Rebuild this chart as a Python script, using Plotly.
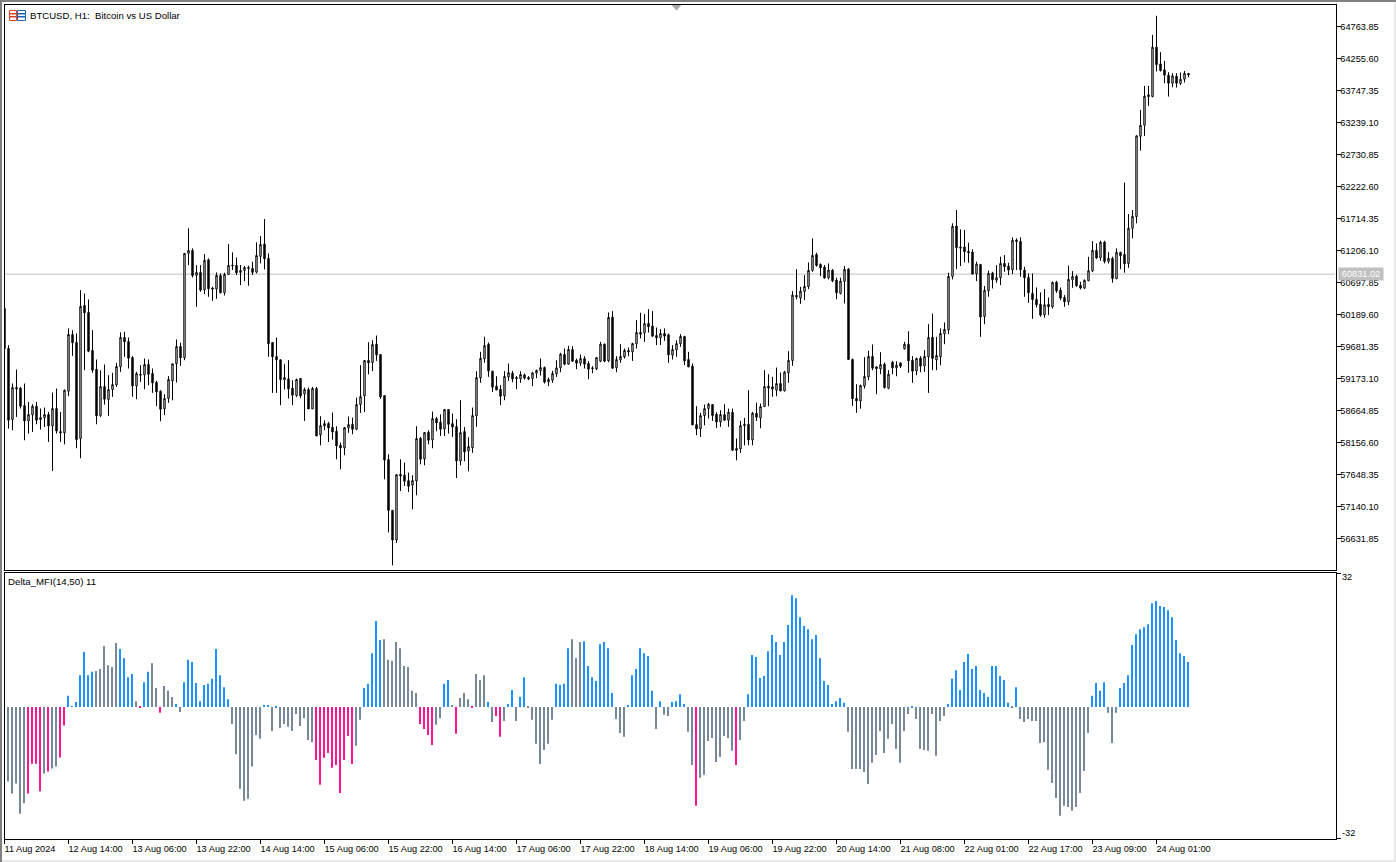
import plotly.graph_objects as go

W, H = 1396, 862

# BTCUSD H1 candles
open_px = [
    60285, 59650, 58521, 59029, 59019, 58743, 58499, 58595, 58733, 58521, 58552, 58600,
    58420, 58696, 58330, 58309, 58971, 59872, 59745, 58219, 60333, 60222, 59618, 59321,
    58584, 59045, 58839, 58998, 59072, 59358, 59824, 59761, 59506, 59056, 59236, 59231,
    59395, 59252, 59109, 58971, 58690, 58855, 59135, 59406, 59681, 59501, 61160, 61208,
    60810, 60858, 60582, 61059, 60609, 60593, 60810, 60535, 60826, 60975, 60969, 60858,
    60890, 60937, 60922, 60863, 61112, 61308, 61081, 59745, 59522, 59469, 59151, 59167,
    59019, 58902, 59173, 58929, 58998, 58690, 59014, 58277, 58420, 58457, 58399, 58335,
    58112, 58070, 58388, 58446, 58367, 58759, 58897, 59459, 59427, 59718, 59554, 58902,
    57885, 57079, 56607, 57651, 57636, 57551, 57482, 57545, 58224, 57895, 58319, 58197,
    58537, 58478, 58372, 58680, 58457, 58409, 57863, 58330, 58022, 58075, 58579, 59183,
    59485, 59718, 59289, 59051, 59003, 58897, 59199, 59257, 59188, 59167, 59231, 59188,
    59173, 59257, 59294, 59347, 59120, 59146, 59247, 59342, 59554, 59400, 59634, 59464,
    59416, 59490, 59411, 59342, 59326, 59448, 59718, 59453, 60148, 59342, 59469, 59517,
    59618, 59596, 59724, 59904, 59899, 60047, 60005, 59856, 59819, 59888, 59867, 59544,
    59628, 59724, 59840, 59475, 59369, 58441, 58372, 58584, 58695, 58759, 58605, 58483,
    58600, 58510, 58637, 58060, 58054, 58446, 58446, 58197, 58621, 58547, 58727, 59051,
    59040, 58987, 59093, 58976, 59263, 59459, 60492, 60450, 60556, 60630, 60890, 61144,
    60985, 60943, 60773, 60895, 60736, 60524, 60715, 60911, 59475, 58855, 58817, 59051,
    59199, 59522, 59358, 59326, 59400, 59019, 59432, 59342, 59420, 59644, 59718, 59464,
    59294, 59496, 59374, 59517, 59830, 59469, 59517, 59883, 59946, 60794, 61595, 61261,
    61261, 61192, 61181, 60837, 60985, 60158, 60566, 60847, 60736, 60773, 61001, 60959,
    60900, 61372, 61351, 60895, 60778, 60524, 60429, 60354, 60185, 60349, 60312, 60704,
    60577, 60460, 60391, 60741, 60794, 60656, 60609, 60725, 60884, 61208, 61091, 61340,
    61033, 61081, 60757, 61176, 61144, 61001, 61558, 61743, 63020, 63195, 63678, 63651,
    64435, 64170, 64075, 63990, 63863, 63974, 63858, 63927, 64017,
]
high_px = [
    60285, 59703, 59093, 59316, 59040, 59093, 58802, 58764, 58802, 58696, 58711, 58642,
    58950, 59014, 58642, 58998, 59968, 59941, 59888, 60577, 60524, 60429, 59941, 59475,
    59305, 59395, 59226, 59263, 59422, 59904, 59915, 59824, 59528, 59278, 59385, 59491,
    59475, 59332, 59135, 58987, 58923, 59210, 59411, 59793, 59740, 61160, 61558, 61240,
    60975, 60975, 61149, 61081, 60630, 60858, 60842, 60853, 61308, 61176, 61096, 60975,
    60959, 60964, 61028, 61335, 61436, 61706, 61160, 59745, 59824, 59475, 59400, 59464,
    59146, 59172, 59173, 59029, 59029, 59040, 59040, 58574, 58510, 58484, 58632, 58415,
    58155, 58404, 58568, 58552, 58870, 59385, 59464, 59750, 59782, 59856, 59559, 58908,
    57969, 57079, 57651, 57890, 57837, 57678, 57636, 58415, 58245, 58319, 58351, 58648,
    58563, 58605, 58680, 58685, 58616, 58526, 58828, 58404, 58240, 58711, 59289, 59597,
    59835, 59745, 59294, 59210, 59067, 59289, 59411, 59294, 59210, 59289, 59252, 59210,
    59278, 59316, 59490, 59363, 59188, 59294, 59464, 59581, 59650, 59692, 59687, 59490,
    59554, 59528, 59448, 59369, 59506, 59755, 59729, 60222, 60243, 59528, 59718, 59649,
    59665, 59740, 60100, 60217, 60195, 60275, 60243, 59983, 59957, 59968, 59888, 59703,
    59782, 59877, 59851, 59597, 59411, 58733, 58627, 58759, 58786, 58764, 58637, 58669,
    58764, 58695, 58695, 58219, 58499, 58547, 58987, 58642, 58791, 58775, 59305, 59241,
    59199, 59347, 59268, 59294, 59607, 60561, 60911, 60630, 60815, 61017, 61398, 61171,
    61001, 60975, 61001, 60911, 60773, 60773, 60959, 60927, 59490, 59082, 59077, 59512,
    59612, 59713, 59369, 59591, 59427, 59305, 59453, 59448, 59432, 59755, 59925, 59528,
    59506, 59528, 59623, 60036, 60206, 59835, 59968, 60063, 60853, 61637, 61849, 61542,
    61531, 61330, 61224, 61028, 60990, 60640, 60884, 60868, 60974, 61107, 61134, 61012,
    61414, 61398, 61414, 60948, 60842, 60842, 60619, 60540, 60593, 60460, 60715, 60725,
    60619, 60497, 60969, 60879, 60821, 60709, 60747, 61107, 61356, 61319, 61361, 61361,
    61181, 61107, 61240, 61186, 62284, 61785, 61849, 63041, 63439, 63821, 63821, 64631,
    64934, 64356, 64218, 64038, 64022, 64022, 64033, 64059, 64027,
]
low_px = [
    59650, 58378, 58351, 58563, 58696, 58192, 58298, 58324, 58446, 58362, 58404, 58166,
    57704, 58298, 58166, 58128, 58892, 59533, 58065, 57906, 59305, 59591, 59263, 58446,
    58563, 58759, 58579, 58881, 59040, 59278, 59517, 59332, 58881, 58844, 59120, 59003,
    59066, 58945, 58733, 58494, 58590, 58786, 58828, 59109, 59374, 59464, 60975, 60778,
    60312, 60551, 60513, 60471, 60407, 60439, 60524, 60492, 60816, 60895, 60816, 60657,
    60720, 60646, 60816, 60842, 61001, 60906, 59517, 58945, 58945, 58749, 58998, 58855,
    58749, 58881, 58860, 58499, 58690, 58690, 58261, 58112, 58351, 58165, 58203, 57890,
    57731, 57954, 58309, 58287, 58351, 58627, 58642, 59241, 59289, 59453, 58849, 57572,
    56729, 56205, 56560, 57386, 57466, 57370, 57095, 57318, 57810, 57795, 58128, 58065,
    58335, 58261, 58261, 58298, 58245, 57593, 57795, 57858, 57699, 57991, 58404, 59104,
    59422, 59199, 58961, 58987, 58749, 58828, 59135, 59114, 59003, 59104, 59157, 59146,
    59051, 59178, 59220, 59093, 59051, 59104, 59199, 59273, 59384, 59395, 59437, 59321,
    59374, 59332, 59162, 59257, 59305, 59432, 59432, 59432, 59326, 59273, 59422, 59490,
    59528, 59453, 59649, 59809, 59755, 59904, 59835, 59703, 59703, 59771, 59422, 59475,
    59517, 59676, 59385, 59353, 58436, 58272, 58245, 58430, 58537, 58499, 58388, 58404,
    58499, 58404, 58022, 57874, 57991, 58112, 58112, 58112, 58499, 58383, 58722, 58733,
    58881, 58892, 58971, 58966, 59104, 59374, 60429, 60360, 60418, 60593, 60869, 60948,
    60800, 60757, 60747, 60704, 60434, 60508, 60365, 59470, 58738, 58627, 58695, 59014,
    59146, 59305, 58923, 59241, 59014, 59003, 59241, 59209, 59340, 59634, 59263, 59104,
    59225, 59273, 59278, 58945, 59305, 59305, 59384, 59718, 59877, 60747, 60911, 60959,
    61017, 61012, 60831, 60720, 59835, 60036, 60471, 60603, 60694, 60657, 60869, 60816,
    60831, 60895, 60789, 60471, 60376, 60121, 60301, 60153, 60137, 60180, 60285, 60535,
    60418, 60312, 60338, 60614, 60630, 60588, 60593, 60720, 60863, 61075, 61043, 61001,
    61001, 60694, 60752, 60911, 60853, 60932, 61398, 61637, 62792, 63026, 63503, 63640,
    64049, 64049, 63863, 63651, 63799, 63794, 63836, 63874, 63958,
]
close_px = [
    59650, 58510, 59029, 59008, 58733, 58499, 58600, 58733, 58510, 58552, 58600, 58420,
    58696, 58340, 58309, 58987, 59872, 59740, 58203, 60317, 60217, 59607, 59305, 58579,
    59045, 58844, 58998, 59077, 59363, 59824, 59756, 59496, 59056, 59252, 59226, 59395,
    59241, 59104, 58960, 58685, 58855, 59157, 59406, 59681, 59501, 61160, 61208, 60810,
    60858, 60577, 61049, 60598, 60593, 60810, 60535, 60826, 60969, 60964, 60853, 60890,
    60937, 60922, 60858, 61128, 61303, 61075, 59724, 59517, 59469, 59157, 59188, 59008,
    58908, 59157, 58897, 58998, 58690, 59014, 58261, 58425, 58457, 58388, 58324, 58102,
    58070, 58393, 58441, 58367, 58759, 58886, 59459, 59422, 59713, 59549, 58881, 57879,
    57079, 56607, 57646, 57625, 57540, 57461, 57551, 58219, 57890, 58314, 58192, 58537,
    58468, 58367, 58680, 58446, 58404, 57863, 58314, 58007, 58091, 58584, 59188, 59490,
    59697, 59294, 59035, 58992, 58892, 59204, 59268, 59167, 59173, 59236, 59178, 59167,
    59263, 59300, 59347, 59114, 59157, 59252, 59342, 59559, 59400, 59634, 59448, 59416,
    59490, 59400, 59321, 59332, 59506, 59718, 59448, 60142, 59337, 59475, 59522, 59618,
    59596, 59729, 59904, 59877, 60047, 59994, 59846, 59819, 59888, 59846, 59549, 59634,
    59729, 59840, 59453, 59358, 58436, 58372, 58584, 58695, 58764, 58584, 58483, 58600,
    58510, 58637, 58033, 58033, 58425, 58425, 58197, 58621, 58558, 58727, 59045, 59024,
    59008, 59093, 58976, 59273, 59459, 60498, 60471, 60561, 60635, 60890, 61128, 60969,
    60932, 60768, 60895, 60725, 60535, 60720, 60906, 59475, 58849, 58817, 59061, 59204,
    59522, 59337, 59331, 59395, 59029, 59241, 59342, 59385, 59368, 59718, 59453, 59289,
    59490, 59369, 59522, 59824, 59491, 59538, 59888, 59952, 60794, 61589, 61250, 61245,
    61187, 61171, 60831, 60990, 60148, 60572, 60842, 60741, 60773, 61001, 60948, 60895,
    61367, 61351, 60900, 60773, 60535, 60429, 60344, 60180, 60344, 60312, 60699, 60566,
    60450, 60391, 60747, 60794, 60646, 60609, 60731, 60884, 61208, 61086, 61335, 61033,
    61081, 60762, 61176, 61123, 60996, 61558, 61748, 63026, 63195, 63656, 63651, 64435,
    64160, 64064, 63990, 63863, 63980, 63863, 63927, 64022, 63996,
]

# Delta_MFI(14,50) histogram
delta_mfi = [
    -14.4, -18.0, -20.9, -18.5, -25.8, -23.3, -20.9, -13.7, -13.7, -20.4, -16.1, -15.6,
    -14.9, -14.4, -12.2, -4.5, 2.7, 0.2, 1.2, 7.7, 13.3, 7.7, 8.5, 8.7,
    9.2, 14.7, 10.1, 9.7, 15.5, 14.0, 11.8, 7.2, 8.0, 1.4, -0.2, 6.0,
    8.5, 10.6, 4.6, -1.4, 5.1, 3.9, 2.4, 0.7, -1.2, 6.0, 11.4, 10.9,
    5.8, 1.4, 5.3, 5.6, 6.8, 14.0, 7.7, 4.8, 1.9, -4.1, -11.4, -19.8,
    -22.7, -22.2, -14.4, -6.8, -7.7, 0.5, 0.5, -5.8, -0.2, -5.1, -4.1, -4.8,
    -5.8, -1.7, -4.6, -2.7, -8.0, -8.5, -12.8, -18.8, -12.3, -11.1, -14.7, -14.0,
    -20.8, -12.8, -7.0, -13.8, -9.4, -3.1, 4.6, 5.6, 13.0, 20.8, 16.2, 16.4,
    11.4, 11.1, 15.7, 14.2, 9.9, 9.7, 3.9, 3.4, -4.1, -5.3, -6.8, -9.2,
    -4.3, -2.7, 5.6, 6.5, 0.5, -6.5, 2.2, 3.4, 1.9, -0.2, 8.0, 6.5,
    7.7, 1.2, -3.6, -2.2, -7.2, -3.4, 0.7, 4.1, -3.4, 2.4, 7.2, -0.2,
    -3.1, -8.9, -13.8, -10.4, -8.9, -3.1, 5.6, 5.3, 5.6, 14.2, 16.4, 11.8,
    15.7, 15.9, 9.9, 7.2, 6.3, 15.2, 15.7, 14.2, 3.4, -2.9, -6.3, -7.2,
    0.5, 7.7, 9.2, 14.2, 13.0, 12.3, 3.9, -5.3, 1.4, -1.9, -2.2, 1.2,
    1.4, 3.1, 0.7, -6.0, -14.0, -23.9, -17.1, -16.4, -8.2, -7.5, -13.3, -12.1,
    -7.0, -7.5, -10.6, -14.0, -8.0, -3.4, 3.1, 12.6, 12.1, 7.0, 7.5, 13.5,
    17.4, 15.7, 12.6, 15.7, 19.8, 27.0, 26.3, 21.7, 19.6, 18.8, 16.4, 17.4,
    11.8, 6.3, 5.3, 0.7, 1.4, 2.2, 1.0, -6.0, -15.0, -15.0, -15.0, -15.7,
    -18.6, -13.5, -11.6, -5.8, -11.1, -7.7, -4.1, -10.1, -13.5, -5.8, -1.7, -0.2,
    -2.9, -10.1, -10.4, -10.6, -1.7, -11.8, -3.4, -2.2, 0.7, 6.8, 8.9, 4.1,
    10.9, 12.8, 9.2, 9.9, 4.1, 3.4, 2.4, 9.9, 9.9, 7.5, 6.5, 1.0,
    -0.2, 4.8, -2.9, -3.6, -2.9, -3.4, -3.4, -8.7, -8.5, -15.2, -18.4, -22.0,
    -26.3, -23.9, -24.2, -25.1, -24.2, -20.8, -15.5, -6.3, 2.7, 5.8, 3.9, 6.0,
    -1.4, -8.7, -1.4, 4.6, 5.8, 7.7, 15.0, 17.6, 18.8, 19.3, 20.0, 25.1,
    25.6, 24.4, 24.2, 23.4, 21.7, 16.2, 13.0, 12.3, 10.9,
]
delta_state = list(
    "GGGGGGPPPPGP" "GGPPBBBBBBBG" "GGGGGBBBBGPB" "BGGPGGGBGBBB"
    "BBBBBBBBBGGG" "GGGGGBBGBGGG" "GGGGGGPPPPPP" "PPPPGGBBBBBG"
    "GGGGGGGGPPPP" "GGBBGPGGGPGG" "GBGPPGBBGBBG" "GGGGGGBBBBGG"
    "GBBBBBBBBGGG" "BBBBBBBGBGGB" "BBBGGPGGGGGG" "GGGPGGBBBBBB"
    "BBBBBBBBBBBB" "BBBBBBBGGGGG" "GGGGGGGGGGGB" "GGGGGGGGBBBB"
    "BBBBBBBBBBBB" "GBGGGGGGGGGG" "GGGGGGGGBBBB" "GGGBBBBBBBBB"
    "BBBBBBBBB"
)
state_colors = {"B": "#1E90FF", "G": "#778899", "P": "#FF1493"}

price_ticks = [
    64763.85, 64255.60, 63747.35, 63239.10, 62730.85, 62222.60, 61714.35, 61206.10, 60697.85,
    60189.60, 59681.35, 59173.10, 58664.85, 58156.60, 57648.35, 57140.10, 56631.85,
]
time_tick_bars = [0, 16, 32, 48, 64, 80, 96, 112, 128, 144, 160, 176, 192, 208, 224, 240, 256, 272, 288]
time_tick_labels = [
    "11 Aug 2024", "12 Aug 14:00", "13 Aug 06:00", "13 Aug 22:00", "14 Aug 14:00",
    "15 Aug 06:00", "15 Aug 22:00", "16 Aug 14:00", "17 Aug 06:00", "17 Aug 22:00",
    "18 Aug 14:00", "19 Aug 06:00", "19 Aug 22:00", "20 Aug 14:00", "21 Aug 08:00",
    "22 Aug 01:00", "22 Aug 17:00", "23 Aug 09:00", "24 Aug 01:00",
]
last_price = 60831.02

bars = list(range(len(close_px)))
FONT = "Liberation Sans"


def px_x(x):
    return x / W


def px_y(y):
    return 1 - y / H


def rect(x0, y0, x1, y1, fill=None, line=None):
    return dict(
        type="rect", xref="paper", yref="paper",
        x0=px_x(x0), x1=px_x(x1), y0=px_y(y0), y1=px_y(y1),
        fillcolor=fill, line=dict(color=line, width=1 if line else 0),
        layer="above",
    )


def label(text, x, y, yref="paper", yanchor="middle", size=9.6, color="black"):
    return dict(
        text=text, xref="paper", yref=yref, x=px_x(x), y=y,
        xanchor="left", yanchor=yanchor, showarrow=False, borderpad=0,
        font=dict(family=FONT, size=size, color=color),
    )


fig = go.Figure()
fig.add_trace(
    go.Candlestick(
        x=bars, open=open_px, high=high_px, low=low_px, close=close_px,
        xaxis="x", yaxis="y", showlegend=False,
        increasing=dict(line=dict(color="black", width=1), fillcolor="white"),
        decreasing=dict(line=dict(color="black", width=1), fillcolor="black"),
        whiskerwidth=0,
    )
)
fig.add_trace(
    go.Bar(
        x=bars, y=delta_mfi, xaxis="x2", yaxis="y2", showlegend=False,
        width=0.5, offset=-0.375,
        marker=dict(color=[state_colors[s] for s in delta_state], line=dict(width=0)),
    )
)

axis_line = dict(showline=True, linecolor="black", linewidth=1, mirror=True, showgrid=False, zeroline=False)
tick_font = dict(family=FONT, size=9.2, color="black")

fig.update_layout(
    width=W,
    height=H,
    margin=dict(l=0, r=0, t=0, b=0),
    paper_bgcolor="white",
    plot_bgcolor="white",
    boxgap=0.5,
    bargap=0.5,
    showlegend=False,
    xaxis=dict(
        domain=[px_x(4.5), px_x(1335.5)], range=[0, 332.75], type="linear",
        rangeslider=dict(visible=False), showticklabels=False, ticks="",
        anchor="y", **axis_line,
    ),
    yaxis=dict(
        domain=[px_y(569.5), px_y(4.5)], range=[56139.4, 65113.3], side="right",
        tickvals=price_ticks, ticktext=[f"{p:.2f}" for p in price_ticks],
        ticks="outside", ticklen=4, tickcolor="black", tickwidth=1,
        ticklabelstandoff=-2,
        tickfont=tick_font, anchor="x", **axis_line,
    ),
    xaxis2=dict(
        domain=[px_x(4.5), px_x(1335.5)], range=[0, 332.75], type="linear",
        tickvals=time_tick_bars, ticktext=time_tick_labels,
        ticks="outside", ticklen=4, tickcolor="black", tickwidth=1,
        ticklabelposition="outside right", tickangle=0, ticklabelshift=-1,
        ticklabelstandoff=1,
        tickfont=tick_font, anchor="y2", **axis_line,
    ),
    yaxis2=dict(
        domain=[px_y(838.5), px_y(573)], range=[-31.8, 32.4], side="right",
        tickvals=[32.3, -31.7], ticktext=["", ""],
        ticks="outside", ticklen=4, tickcolor="black", tickwidth=1,
        anchor="x2", **axis_line,
    ),
    shapes=[
        # last price line
        dict(type="line", xref="x", yref="y", x0=0, x1=332.75, y0=last_price, y1=last_price,
             line=dict(color="#C0C0C0", width=1), layer="below"),
        # window frame
        rect(0, 0, 1396, 2, fill="#808080"),
        rect(0, 0, 2, 862, fill="#808080"),
        rect(1394, 2, 1396, 862, fill="#E8E8E8"),
        rect(2, 860, 1396, 862, fill="#E8E8E8"),
        # symbol icon
        rect(9.5, 10.5, 16.5, 20.5, line="#E2401F"),
        rect(17.5, 10.5, 25.5, 20.5, line="#1F63B5"),
        rect(10, 13.5, 16, 14, line="#E2401F"),
        rect(10, 16.5, 16, 17, line="#E2401F"),
        rect(18, 13.5, 25, 14, line="#1F63B5"),
        rect(18, 16.5, 25, 17, line="#1F63B5"),
        # chart shift marker
        dict(type="path", xref="paper", yref="paper", line=dict(width=0), fillcolor="#A8A8A8",
             path=f"M {px_x(671.5)} {px_y(5)} L {px_x(681.5)} {px_y(5)} L {px_x(676.5)} {px_y(10.5)} Z"),
    ],
    annotations=[
        label("BTCUSD, H1:\u00a0\u00a0Bitcoin vs US Dollar", 28.5, px_y(15.5)),
        label("Delta_MFI(14,50) 11", 6.5, px_y(581), size=9.7),
        label("32", 1340.5, px_y(571), yanchor="top", size=9.2),
        label("-32", 1340.5, px_y(839), yanchor="bottom", size=9.2),
        dict(text="60831.02", xref="paper", yref="y", x=px_x(1361), y=last_price,
             xanchor="center", yanchor="middle", showarrow=False, bgcolor="#C0C0C0",
             borderpad=1, width=42, font=dict(family=FONT, size=9.2, color="white")),
    ],
)

# the page's default body margin would push the chart off its pixel grid
fig.write_html(
    "out.html",
    config={"displayModeBar": False},
    post_script="document.body.style.margin='0';",
)
